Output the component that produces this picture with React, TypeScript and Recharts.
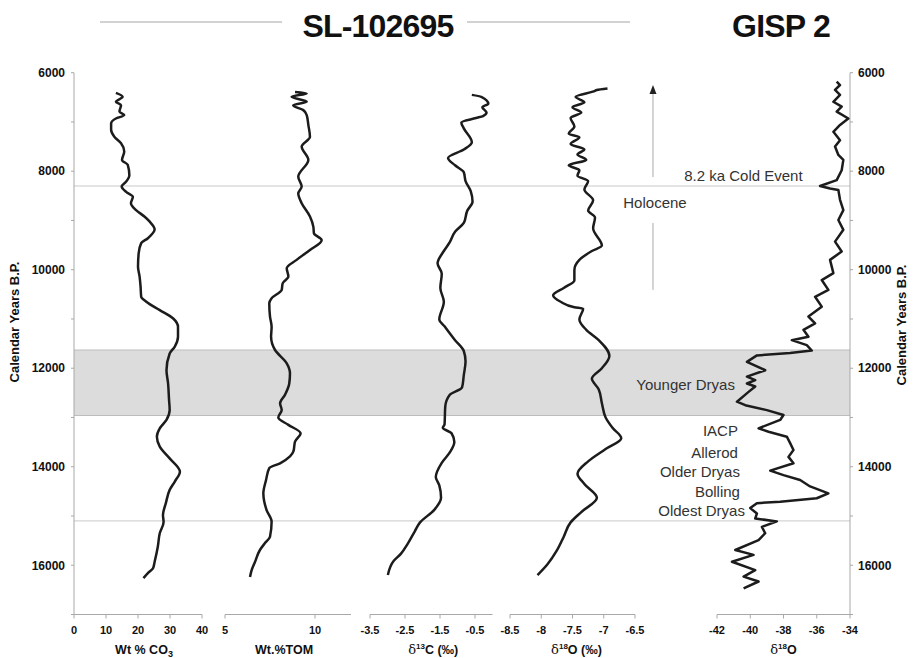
import React from 'react'
import {
  LineChart,
  Line,
  XAxis,
  YAxis,
  ReferenceArea,
  ReferenceLine,
  ReferenceDot
} from 'recharts'

const W = 918
const H = 658
const TOP = 72.7
const AXIS_H = 43.5
const FONT = 'Arial, "Liberation Sans", Helvetica, sans-serif'
const INK = '#1c1c1c'
const GRID = '#c9c9c9'

// shared vertical axis, calendar years B.P.
const yearTicks = [6000, 7000, 8000, 9000, 10000, 11000, 12000, 13000, 14000, 15000, 16000, 17000]
const youngerDryas = [11630, 12960]
const coldEvent = 8300
const oldestDryasTop = 15100

// SL-102695, Wt % CO3
const co3Age = [6410, 6490, 6590, 6660, 6790, 6860, 6930, 7030, 7160, 7300, 7430, 7600, 7770, 7870, 8080, 8210, 8310, 8420, 8520, 8650, 8790, 8920, 9020, 9180, 9360, 9460, 9670, 9940, 10140, 10340, 10550, 10650, 10820, 10990, 11160, 11360, 11560, 11700, 12040, 12310, 12640, 12850, 13050, 13220, 13390, 13590, 13830, 14100, 14300, 14470, 14740, 14980, 15120, 15350, 15620, 15930, 16060, 16160, 16260]
const co3Pct = [13.1, 15.2, 13.1, 14.7, 14.2, 15.7, 13.1, 11.6, 11.6, 12.6, 14.7, 15.7, 15.0, 16.8, 17.3, 16.3, 14.9, 16.3, 18.4, 17.8, 19.4, 22.0, 23.6, 25.2, 23.1, 21.0, 20.2, 20.0, 20.5, 20.8, 21.0, 22.6, 26.8, 31.0, 32.5, 32.5, 31.5, 29.9, 28.9, 29.4, 29.7, 29.9, 28.9, 26.8, 25.9, 26.8, 29.9, 33.1, 31.5, 29.9, 28.7, 27.8, 28.0, 26.8, 26.2, 25.2, 24.7, 23.1, 21.7]

// SL-102695, Wt.% TOM
const tomAge = [6390, 6420, 6490, 6590, 6660, 6760, 6860, 7060, 7300, 7500, 7770, 8110, 8310, 8450, 8650, 8920, 9130, 9260, 9400, 9600, 9800, 9970, 10140, 10280, 10410, 10580, 10680, 10950, 11160, 11360, 11630, 11900, 12100, 12310, 12540, 12710, 12850, 13000, 13150, 13320, 13490, 13690, 13790, 13930, 14030, 14270, 14540, 14880, 15110, 15420, 15550, 15690, 15930, 16100, 16240]
const tomPct = [8.89, 9.54, 8.70, 9.54, 8.79, 9.35, 9.54, 9.63, 9.72, 9.26, 9.63, 9.07, 9.26, 9.07, 9.26, 9.72, 9.91, 9.94, 10.37, 9.72, 8.98, 8.43, 8.52, 8.20, 8.15, 7.59, 7.46, 7.50, 7.59, 7.56, 7.78, 8.43, 8.61, 8.57, 8.33, 8.06, 8.15, 7.96, 8.52, 9.20, 8.89, 8.80, 8.61, 8.06, 7.46, 7.28, 7.13, 7.31, 7.59, 7.50, 7.22, 6.94, 6.67, 6.48, 6.39]

// SL-102695, d13C
const c13Age = [6450, 6490, 6630, 6700, 6810, 6880, 6920, 7010, 7130, 7410, 7560, 7730, 7880, 8020, 8200, 8410, 8620, 8800, 9050, 9230, 9440, 9620, 9870, 10080, 10370, 10650, 11010, 11150, 11430, 11650, 11860, 12140, 12390, 12540, 12780, 13140, 13210, 13320, 13500, 13710, 13920, 14210, 14380, 14630, 14880, 15130, 15310, 15560, 15770, 15910, 16200]
const c13Val = [-0.59, -0.32, -0.12, -0.29, -0.17, -0.27, -0.47, -0.89, -0.82, -0.59, -0.82, -1.27, -1.07, -0.82, -0.77, -0.62, -0.57, -0.72, -0.82, -1.07, -1.22, -1.39, -1.57, -1.45, -1.49, -1.39, -1.52, -1.37, -1.07, -0.82, -0.77, -0.82, -0.87, -1.22, -1.35, -1.37, -1.42, -1.17, -1.09, -1.22, -1.45, -1.62, -1.52, -1.47, -1.67, -2.07, -2.22, -2.42, -2.62, -2.82, -2.99]

// SL-102695, d18O
const o18Age = [6320, 6350, 6370, 6490, 6600, 6700, 6810, 6920, 7090, 7240, 7310, 7450, 7560, 7660, 7770, 7880, 7980, 8090, 8200, 8370, 8590, 8800, 8940, 9160, 9510, 9620, 9800, 10010, 10220, 10370, 10520, 10650, 10760, 10790, 11010, 11220, 11430, 11750, 12000, 12210, 12430, 12710, 13000, 13210, 13420, 13640, 13890, 14140, 14350, 14630, 14920, 15130, 15420, 15700, 15980, 16200]
const o18Val = [-6.94, -7.11, -7.14, -7.45, -7.31, -7.50, -7.36, -7.53, -7.47, -7.56, -7.39, -7.53, -7.31, -7.42, -7.28, -7.56, -7.39, -7.42, -7.25, -7.31, -7.17, -7.25, -7.14, -7.17, -7.03, -7.19, -7.39, -7.47, -7.47, -7.64, -7.81, -7.69, -7.47, -7.33, -7.39, -7.28, -7.08, -6.91, -7.03, -7.19, -7.08, -7.03, -6.97, -6.86, -6.72, -6.97, -7.25, -7.42, -7.31, -7.11, -7.36, -7.53, -7.64, -7.75, -7.90, -8.06]

// GISP 2, d18O
const gispAge = [6180, 6250, 6350, 6450, 6590, 6690, 6790, 6930, 7060, 7200, 7370, 7500, 7670, 7770, 7980, 8180, 8300, 8350, 8380, 8580, 8790, 8990, 9190, 9430, 9630, 9800, 10070, 10210, 10410, 10550, 10750, 10950, 11090, 11220, 11360, 11430, 11530, 11640, 11690, 11740, 11870, 12040, 12170, 12240, 12310, 12370, 12480, 12680, 12750, 12850, 12950, 13050, 13220, 13290, 13390, 13520, 13660, 13800, 13930, 14080, 14170, 14270, 14400, 14540, 14640, 14710, 14740, 14840, 14950, 15050, 15110, 15220, 15350, 15490, 15690, 15790, 15930, 16100, 16230, 16330, 16470]
const gispVal = [-34.8, -34.6, -34.9, -34.6, -35.0, -34.5, -34.8, -34.1, -34.6, -35.0, -34.6, -34.9, -34.7, -34.4, -34.5, -34.8, -35.8, -35.2, -34.7, -34.6, -34.4, -34.7, -34.4, -34.9, -34.5, -35.2, -35.0, -35.7, -35.3, -36.1, -35.7, -36.5, -36.1, -36.8, -36.5, -37.5, -36.6, -36.3, -37.6, -39.6, -40.2, -39.1, -40.2, -39.7, -40.2, -39.7, -40.1, -40.8, -40.3, -39.0, -38.0, -38.2, -39.5, -38.9, -37.8, -37.6, -37.4, -37.7, -37.4, -38.8, -38.0, -37.0, -36.4, -35.3, -36.0, -38.2, -39.6, -40.0, -39.6, -39.7, -38.4, -39.3, -39.1, -39.5, -40.9, -39.8, -41.1, -39.7, -40.4, -39.5, -40.4]

const zip = (ages: number[], vals: number[]) => ages.map((age, i) => ({ age, v: vals[i] }))

const tickStyle = { fill: '#111', fontSize: 11, fontWeight: 700, fontFamily: FONT }
const yTickStyle = { fill: '#111', fontSize: 12, fontWeight: 700, fontFamily: FONT }
const yearLabel = (t: number) => (t % 2000 === 0 && t < 17000 ? String(t) : '')

function AxisTitle({ viewBox, children, dx = 0 }: any) {
  const { x, y, width } = viewBox
  return (
    <text x={x + width / 2 + dx} y={y + 39.5} textAnchor="middle" fontSize={12.5} fontWeight={700} fill="#111" fontFamily={FONT}>
      {children}
    </text>
  )
}

const delta = (mass: string, el: string, unit: string) => [
  <tspan key="d" fontWeight={400} fontFamily="'DejaVu Serif', serif" fontSize={13}>δ</tspan>,
  <tspan key="m" fontSize={8} dy={-5}>{mass}</tspan>,
  <tspan key="e" dy={5}>{el}{unit}</tspan>
]

// in vertical layout the y range already runs top to bottom, so no "reversed" here
function Panel({ data, left, right, domain, ticks, title, dx, curve = 'monotone', children }: any) {
  return (
    <div style={{ position: 'absolute', left: 0, top: 0 }}>
      <LineChart width={W} height={H} data={data} layout="vertical"
        margin={{ top: TOP, bottom: 0, left, right: W - right }}>
        <YAxis type="number" dataKey="age" domain={[6000, 17000]} hide allowDataOverflow />
        <XAxis type="number" domain={domain} ticks={ticks} interval={0} allowDataOverflow
          height={AXIS_H} tickSize={4} tickMargin={8}
          axisLine={{ stroke: '#a8a8a8' }} tickLine={{ stroke: '#a8a8a8' }} tick={tickStyle}
          label={{ content: (p: any) => <AxisTitle viewBox={p.viewBox} dx={dx}>{title}</AxisTitle> }} />
        <Line dataKey="v" type={curve} stroke={INK} strokeWidth={2.5} strokeLinejoin="round"
          dot={false} activeDot={false} isAnimationActive={false} />
        {children}
      </LineChart>
    </div>
  )
}

const Note = ({ cx, cy, text, anchor = 'end' }: any) => (
  <text x={cx} y={cy} dy="0.35em" textAnchor={anchor} fontSize={15} fill="#333" fontFamily={FONT}>{text}</text>
)

export default function App() {
  const co3Data = zip(co3Age, co3Pct)
  const tomData = zip(tomAge, tomPct)
  const c13Data = zip(c13Age, c13Val)
  const o18Data = zip(o18Age, o18Val)
  const gispData = zip(gispAge, gispVal)

  const events = [
    { text: 'Younger Dryas', x: -40.92, age: 12340 },
    { text: 'IACP', x: -40.74, age: 13274 },
    { text: 'Allerod', x: -40.74, age: 13720 },
    { text: 'Older Dryas', x: -40.62, age: 14105 },
    { text: 'Bolling', x: -40.62, age: 14511 },
    { text: 'Oldest Dryas', x: -40.32, age: 14897 }
  ]
  const arrowX = -45.85

  return (
    <div style={{ position: 'absolute', left: 0, top: 0, width: W, height: H, background: '#fff', fontFamily: FONT }}>
      {/* shared frame: both year axes, Younger Dryas band, event lines */}
      <div style={{ position: 'absolute', left: 0, top: 0 }}>
        <LineChart width={W} height={H} data={co3Data} margin={{ top: TOP, bottom: AXIS_H, left: 0, right: 0 }}>
          <XAxis type="number" hide domain={[0, 1]} allowDataOverflow />
          <YAxis yAxisId="l" type="number" domain={[6000, 17000]} reversed allowDataOverflow
            ticks={yearTicks} interval={0} width={74} tickSize={3} tickMargin={6}
            tickFormatter={yearLabel} tick={yTickStyle}
            axisLine={{ stroke: '#a8a8a8' }} tickLine={{ stroke: '#a8a8a8' }}
            label={{ content: () => (
              <text transform="translate(19,322) rotate(-90)" textAnchor="middle" fontSize={13} fontWeight={700} fill="#111" fontFamily={FONT}>Calendar Years B.P.</text>
            ) }} />
          <YAxis yAxisId="r" orientation="right" type="number" domain={[6000, 17000]} reversed allowDataOverflow
            ticks={yearTicks} interval={0} width={68} tickSize={3} tickMargin={5}
            tickFormatter={yearLabel} tick={yTickStyle}
            axisLine={{ stroke: '#a8a8a8' }} tickLine={{ stroke: '#a8a8a8' }}
            label={{ content: () => (
              <text transform="translate(906,325) rotate(-90)" textAnchor="middle" fontSize={13} fontWeight={700} fill="#111" fontFamily={FONT}>Calendar Years B.P.</text>
            ) }} />
          <ReferenceArea yAxisId="l" y1={youngerDryas[0]} y2={youngerDryas[1]} fill="#dcdcdc" fillOpacity={1} stroke="none" />
          <ReferenceLine yAxisId="l" y={youngerDryas[0]} stroke="#bdbdbd" strokeWidth={1.2} />
          <ReferenceLine yAxisId="l" y={youngerDryas[1]} stroke="#bdbdbd" strokeWidth={1.2} />
          <ReferenceLine yAxisId="l" y={coldEvent} stroke={GRID} />
          <ReferenceLine yAxisId="l" y={oldestDryasTop} stroke={GRID} />
        </LineChart>
      </div>

      <Panel data={co3Data} left={74} right={202} domain={[0, 40]} ticks={[0, 10, 20, 30, 40]} dx={6}
        title={<>Wt % CO<tspan fontSize={9} dy={3}>3</tspan></>} />
      <Panel data={tomData} left={225} right={351} domain={[5, 12]} ticks={[5, 10]} dx={-4}
        title="Wt.%TOM" />
      <Panel data={c13Data} left={370} right={492.5} domain={[-3.5, 0]} ticks={[-3.5, -2.5, -1.5, -0.5]} dx={2}
        title={delta('13', 'C', ' (‰)')} />
      <Panel data={o18Data} left={510} right={635} domain={[-8.5, -6.5]} ticks={[-8.5, -8, -7.5, -7, -6.5]} dx={4}
        title={delta('18', 'O', ' (‰)')} />
      <Panel data={gispData} left={717} right={850} domain={[-42, -34]} ticks={[-42, -40, -38, -36, -34]} dx={0}
        curve="linear" title={delta('18', 'O', '')}>
        <ReferenceLine segment={[{ x: arrowX, y: 6330 }, { x: arrowX, y: 8120 }]} ifOverflow="visible" stroke="#aaa" />
        <ReferenceLine segment={[{ x: arrowX, y: 9050 }, { x: arrowX, y: 10410 }]} ifOverflow="visible" stroke="#aaa" />
        <ReferenceDot x={arrowX} y={6250} ifOverflow="visible"
          shape={(p: any) => <polygon points={`${p.cx},${p.cy} ${p.cx - 3.5},${p.cy + 9} ${p.cx + 3.5},${p.cy + 9}`} fill="#222" />} />
        <ReferenceDot x={-40.41} y={8097} ifOverflow="visible"
          shape={(p: any) => <Note cx={p.cx} cy={p.cy} text="8.2 ka Cold Event" anchor="middle" />} />
        <ReferenceDot x={-45.73} y={8645} ifOverflow="visible"
          shape={(p: any) => <Note cx={p.cx} cy={p.cy} text="Holocene" anchor="middle" />} />
        {events.map((e) => (
          <ReferenceDot key={e.text} x={e.x} y={e.age} ifOverflow="visible"
            shape={(p: any) => <Note cx={p.cx} cy={p.cy} text={e.text} />} />
        ))}
      </Panel>

      {/* titles */}
      <div style={{ position: 'absolute', left: 100, top: 21, width: 182, height: 2, background: '#d2d2d2' }} />
      <div style={{ position: 'absolute', left: 467, top: 21, width: 163, height: 2, background: '#d2d2d2' }} />
      <div style={{ position: 'absolute', left: 278, top: 11, width: 200, textAlign: 'center', fontSize: 32, fontWeight: 700, letterSpacing: -0.8, lineHeight: '30px', color: '#111' }}>SL-102695</div>
      <div style={{ position: 'absolute', left: 681, top: 11, width: 200, textAlign: 'center', fontSize: 32, fontWeight: 700, letterSpacing: -0.8, lineHeight: '30px', color: '#111' }}>GISP 2</div>
    </div>
  )
}
